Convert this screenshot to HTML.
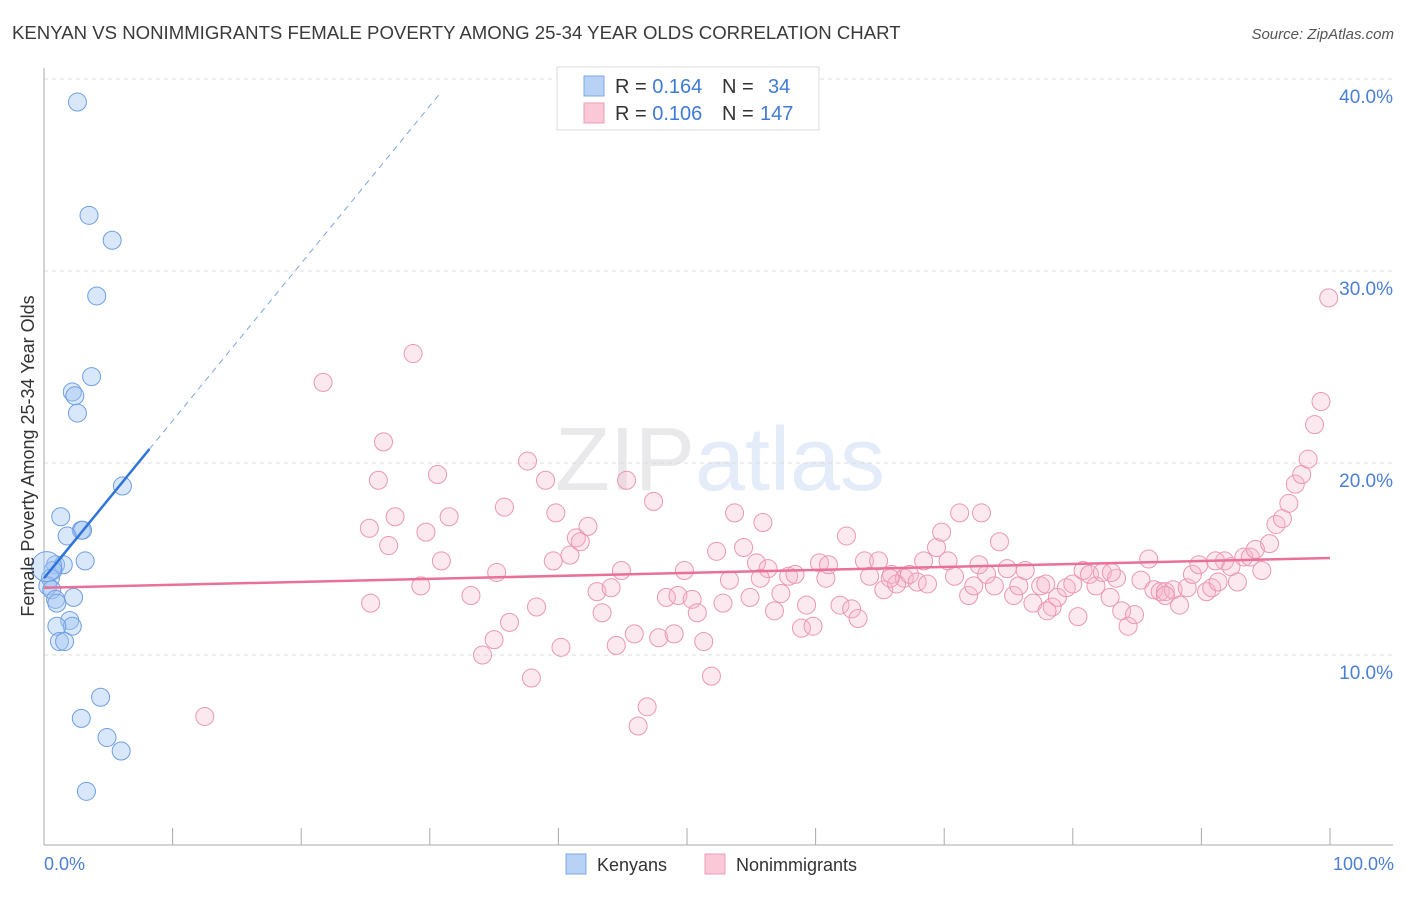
<!DOCTYPE html>
<html><head><meta charset="utf-8"><style>
body{margin:0;background:#fff;font-family:"Liberation Sans",sans-serif;}
svg text{font-family:"Liberation Sans",sans-serif;}
</style></head><body>
<svg id="chart" width="1406" height="892" viewBox="0 0 1406 892" xmlns="http://www.w3.org/2000/svg">
<text x="12" y="39" font-size="18.6" fill="#3a3a3a">KENYAN VS NONIMMIGRANTS FEMALE POVERTY AMONG 25-34 YEAR OLDS CORRELATION CHART</text>
<text x="1394" y="39" font-size="15" fill="#555" font-style="italic" text-anchor="end">Source: ZipAtlas.com</text>
<text x="720" y="490" font-size="90" fill="#ececef" text-anchor="middle" font-family="Liberation Serif"><tspan fill="#e9e9ec">ZIP</tspan><tspan fill="#e3ecf8" font-family="Liberation Sans">atlas</tspan></text>
<g id="grid"></g>
<g id="axes"></g>
<g id="pts"></g>
<g id="trends"></g>
<text transform="translate(34,456) rotate(-90)" font-size="18" fill="#333" text-anchor="middle">Female Poverty Among 25-34 Year Olds</text>
<text x="44" y="870" font-size="18" fill="#4a7fd4">0.0%</text>
<text x="1394" y="870" font-size="18" fill="#4a7fd4" text-anchor="end">100.0%</text>
<g>
<rect x="557" y="67" width="262" height="63" fill="#fff" stroke="#ddd"/>
<rect x="584" y="76" width="20" height="20" fill="#b8d2f5" stroke="#7ea8e6"/>
<rect x="584" y="103" width="20" height="20" fill="#fac8d6" stroke="#ee9db8"/>
<text x="615" y="93" font-size="20" fill="#333">R = <tspan fill="#3f7bd6">0.164</tspan><tspan x="722">N = </tspan><tspan x="768" fill="#3f7bd6">34</tspan></text>
<text x="615" y="120" font-size="20" fill="#333">R = <tspan fill="#3f7bd6">0.106</tspan><tspan x="722">N = </tspan><tspan x="760" fill="#3f7bd6">147</tspan></text>
</g>
<g>
<rect x="566" y="854" width="20" height="20" fill="#b8d2f5" stroke="#7ea8e6"/>
<text x="597" y="871" font-size="18" fill="#333">Kenyans</text>
<rect x="705" y="854" width="20" height="20" fill="#fac8d6" stroke="#ee9db8"/>
<text x="736" y="871" font-size="18" fill="#333">Nonimmigrants</text>
</g>
</svg>
<script>
const yTicks=[10,20,30,40];
const yTickLabels=["10.0%","20.0%","30.0%","40.0%"];
const kenyanX=[2.6,3.5,5.3,4.1,3.7,2.2,2.4,2.6,6.1,1.3,2.9,3.0,1.8,3.2,0.9,1.5,0.7,0.5,0.3,0.6,2.3,0.9,1.0,2.0,2.2,1.0,1.2,1.6,4.4,2.9,4.9,6.0,3.3,0.2];
const kenyanY=[38.8,32.9,31.6,28.7,24.5,23.7,23.5,22.6,18.8,17.2,16.5,16.5,16.2,14.9,14.7,14.7,14.4,14.0,13.6,13.4,13.0,12.9,12.7,11.8,11.5,11.5,10.7,10.7,7.8,6.7,5.7,5.0,2.9,14.6];
const nonimX=[12.5,21.7,28.7,26.4,26.0,25.3,25.4,26.8,27.3,29.7,30.6,30.9,31.5,29.3,33.2,35.2,35.8,36.2,35.0,34.1,37.6,37.9,38.3,39.0,39.6,39.8,40.2,40.9,41.4,41.7,42.3,43.0,43.4,44.1,44.5,44.9,45.3,45.9,46.2,46.9,47.4,47.8,48.4,49.0,49.3,49.8,50.4,50.8,51.3,51.9,52.3,52.8,53.3,53.7,54.4,54.9,55.4,55.9,56.3,56.8,57.3,57.9,58.4,58.9,59.3,59.8,60.3,60.8,61.0,61.9,62.4,62.8,63.3,63.8,64.2,64.9,65.3,65.9,66.3,66.9,67.3,67.9,68.4,68.7,69.4,69.8,70.3,70.8,71.2,71.9,72.3,72.9,73.3,73.9,74.3,74.9,75.4,75.8,76.3,76.9,77.5,77.9,78.4,78.8,79.5,80.0,80.4,80.8,81.3,81.8,82.3,82.9,83.4,83.8,84.3,84.8,85.3,85.9,86.3,86.8,87.2,87.8,88.3,88.9,89.3,89.8,90.4,90.8,91.3,91.8,92.3,92.8,93.3,93.8,94.2,94.7,95.3,95.8,96.3,96.8,97.3,97.8,98.3,98.8,99.3,99.9,83.0,78.0,72.7,65.8,55.7,91.1,87.2];
const nonimY=[6.8,24.2,25.7,21.1,19.1,16.6,12.7,15.7,17.2,16.4,19.4,14.9,17.2,13.6,13.1,14.3,17.7,11.7,10.8,10.0,20.1,8.8,12.5,19.1,14.9,17.4,10.4,15.2,16.1,15.9,16.7,13.3,12.2,13.5,10.5,14.4,19.1,11.1,6.3,7.3,18.0,10.9,13.0,11.1,13.1,14.4,12.9,12.2,10.7,8.9,15.4,12.7,13.9,17.4,15.6,13.0,14.8,16.9,14.5,12.3,13.2,14.1,14.2,11.4,12.6,11.5,14.8,14.0,14.7,12.6,16.2,12.4,11.9,14.9,14.1,14.9,13.4,14.2,13.7,14.0,14.2,13.8,14.9,13.7,15.6,16.4,14.9,14.1,17.4,13.1,13.6,17.4,14.2,13.6,15.9,14.5,13.1,13.6,14.4,12.7,13.6,13.7,12.5,13.0,13.5,13.7,12.0,14.4,14.2,13.6,14.3,13.0,14.0,12.3,11.5,12.1,13.9,15.0,13.4,13.3,13.3,13.4,12.6,13.5,14.2,14.7,13.3,13.5,13.8,14.9,14.6,13.8,15.1,15.1,15.5,14.4,15.8,16.8,17.1,17.9,18.9,19.4,20.2,22.0,23.2,28.6,14.3,12.3,14.7,14.0,14.0,14.9,13.1];
const kenyanTrend=[14.0,0.82];
const nonimTrend=[13.5,15.05];
const NS='http://www.w3.org/2000/svg';
const xs=v=>44+v*12.86, ys=v=>847-v*19.2;
function mk(tag,attrs,parent){const e=document.createElementNS(NS,tag);for(const k in attrs)e.setAttribute(k,attrs[k]);document.getElementById(parent).appendChild(e);return e;}
yTicks.forEach((t,i)=>{
 const g=mk('line',{x1:44,x2:1393,y1:ys(t),y2:ys(t),stroke:'#dcdcdc','stroke-dasharray':'4,4'},'grid');
 
 
 const tx=mk('text',{x:1393,y:ys(t)+24,'font-size':19,fill:'#4a7fd4','text-anchor':'end'},'grid');
 tx.textContent=yTickLabels[i];
 
 
});
const ax=mk('line',{x1:44,x2:1393,y1:845,y2:845,stroke:'#aaa'},'axes');


const ay=mk('line',{x1:44,x2:44,y1:68,y2:845,stroke:'#aaa'},'axes');


for(let i=1;i<=10;i++){const t=mk('line',{x1:xs(i*10),x2:xs(i*10),y1:828,y2:845,stroke:'#aaa'},'axes');
 
 }
nonimX.forEach((x,i)=>{const c=mk('circle',{cx:xs(x),cy:ys(nonimY[i]),r:9,fill:'rgba(246,182,202,0.3)',stroke:'#eb97b4','stroke-width':1},'pts');
 
 });
kenyanX.forEach((x,i)=>{const c=mk('circle',{cx:xs(x),cy:ys(kenyanY[i]),r:i==33?15:9,fill:'rgba(160,196,242,0.4)',stroke:'#6f9fe2','stroke-width':1},'pts');
 
 });
const kf=x=>kenyanTrend[0]+kenyanTrend[1]*x;
const kl=mk('line',{x1:xs(0),y1:ys(kf(0)),x2:xs(8.2),y2:ys(kf(8.2)),stroke:'#2f74d8','stroke-width':2.5},'trends');


const kd=mk('line',{x1:xs(8.2),y1:ys(kf(8.2)),x2:xs(30.8),y2:ys(kf(30.8)),stroke:'#7aa6e6','stroke-width':1,'stroke-dasharray':'6,5'},'trends');


const pl=mk('line',{x1:xs(0),y1:ys(nonimTrend[0]),x2:xs(100),y2:ys(nonimTrend[1]),stroke:'#e8709a','stroke-width':2.5},'trends');


</script>
</body></html>
